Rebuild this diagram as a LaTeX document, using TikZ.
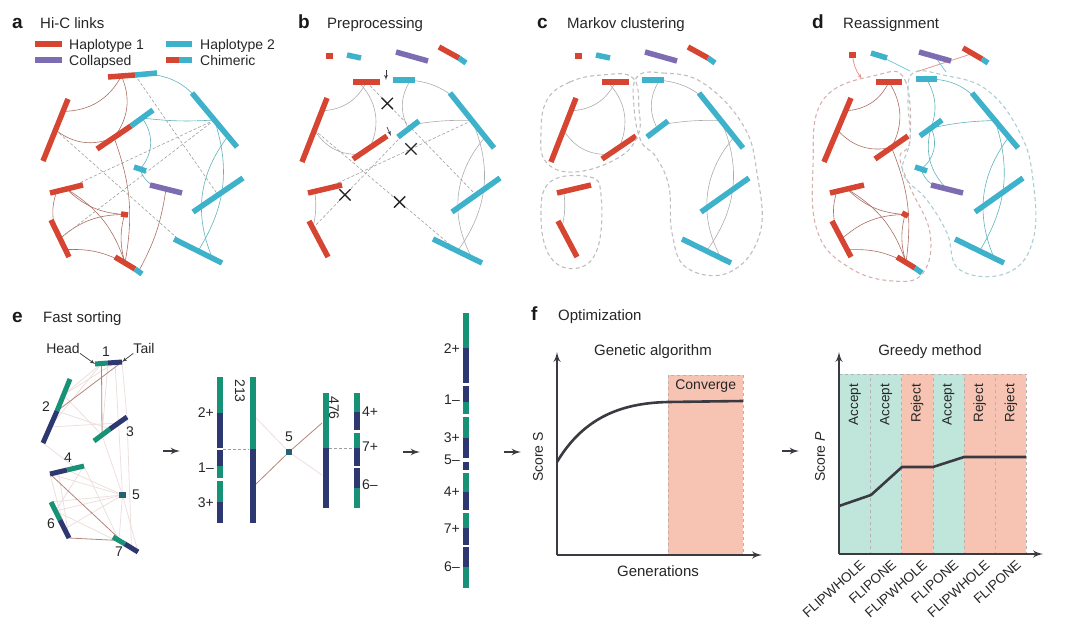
\documentclass[tikz,border=0pt]{standalone}
\usepackage{fontspec}
\setmainfont{Liberation Sans}
\usepackage{xcolor}
\definecolor{hapred}{RGB}{214, 68, 50}
\definecolor{hapblue}{RGB}{62, 178, 202}
\definecolor{collpurple}{RGB}{126, 108, 178}
\definecolor{headgreen}{RGB}{24, 146, 118}
\definecolor{tailnavy}{RGB}{46, 56, 112}
\definecolor{redlink}{RGB}{170, 110, 100}
\definecolor{bluelink}{RGB}{95, 178, 188}
\definecolor{clgray}{RGB}{190, 190, 192}
\definecolor{clred}{RGB}{214, 178, 174}
\definecolor{clblue}{RGB}{172, 206, 210}
\definecolor{acceptfill}{RGB}{192, 230, 220}
\definecolor{rejectfill}{RGB}{247, 196, 180}
\definecolor{axisgray}{RGB}{58, 58, 64}
\usepackage{tikz}
\usetikzlibrary{arrows, calc, positioning, backgrounds, shapes.misc}

% contig bar: style, name, from, to
\newcommand{\fragbar}[4]{\draw[#1] #3 coordinate (#2-s) -- coordinate[pos=.2] (#2-1) coordinate[pos=.5] (#2) coordinate[pos=.8] (#2-3) #4 coordinate (#2-e);}
% chimeric contig: name, from, junction, to
\newcommand{\chimbar}[4]{%
  \draw[redbar] #2 coordinate (#1-s) -- coordinate[pos=.5] (#1-r) #3 coordinate (#1-m);
  \draw[bluebar] (#1-m) -- coordinate[pos=.5] (#1-b) #4 coordinate (#1-e);}
% two-coloured contig for sorting: name, colour 1, colour 2, from, junction, to
\newcommand{\duobar}[6]{%
  \draw[ebar, draw=#2] #4 coordinate (#1-s) -- coordinate[pos=.5] (#1-g) #5 coordinate (#1-m);
  \draw[ebar, draw=#3] (#1-m) -- coordinate[pos=.5] (#1-n) #6 coordinate (#1-e);}
% contigs of panels b and c
\newcommand{\bcfrags}[1]{%
  \fragbar{redbar}{#1-t1}{(326,56)}{(333,56)}
  \fragbar{bluebar}{#1-t2}{(347,55)}{(361,58)}
  \fragbar{purplebar}{#1-t3}{(396,52)}{(428,61)}
  \chimbar{#1-t4}{(439,47)}{(459,58)}{(466,63)}
  \fragbar{redbar}{#1-rt}{(353,82)}{(380,82)}
  \fragbar{bluebar}{#1-bt}{(393,80)}{(415,80)}
  \fragbar{redbar}{#1-rl}{(327,98)}{(302,162)}
  \fragbar{redbar}{#1-rm}{(353,159)}{(387,136)}
  \fragbar{bluebar}{#1-bm}{(398,137)}{(419,121)}
  \fragbar{bluebar}{#1-br}{(450,93)}{(494,148)}
  \fragbar{bluebar}{#1-bmr}{(452,212)}{(500,178)}
  \fragbar{redbar}{#1-rlh}{(308,193)}{(342,185)}
  \fragbar{redbar}{#1-rll}{(309,221)}{(328,257)}
  \fragbar{bluebar}{#1-bb}{(433,239)}{(482,263)}
  \begin{scope}[on background layer]
    \draw[glink] (#1-rt) to[bend left=30] (#1-rl-1);
    \draw[glink] (#1-rt-1) to[bend left=35] (#1-rm);
    \draw[glink] (#1-rl) to[bend right=30] (#1-rm-1);
    \draw[glink] (#1-rlh-1) to[bend left=10] (#1-rll-1);
    \draw[glink] (#1-bt) to[bend left=30] (#1-br);
    \draw[glink] (#1-bt-3) to[bend right=30] (#1-bm);
    \draw[glink] (#1-bm-3) to[bend left=5] (#1-br);
    \draw[glink] (#1-br) to[bend left=30] (#1-bb);
    \draw[glink] (#1-br-3) to[bend right=35] (#1-bb-3);
  \end{scope}}

\begin{document}
\begin{tikzpicture}[x=1pt, y=-1pt,
    fragbase/.style={line width=5.5pt},
    redbar/.style={fragbase, draw=hapred},
    bluebar/.style={fragbase, draw=hapblue},
    purplebar/.style={fragbase, draw=collpurple},
    ebar/.style={line width=5pt},
    colbar/.style={line width=6pt},
    rlink/.style={draw=redlink, line width=.6pt},
    blink/.style={draw=bluelink, line width=.6pt},
    glink/.style={draw=gray!65, line width=.6pt},
    dlink/.style={draw=gray!75, dash pattern=on 3pt off 2pt, line width=.6pt},
    faint/.style={draw=redlink!22, line width=.8pt},
    strong/.style={draw=redlink!85, line width=.8pt},
    cut/.style={cross out, draw=black!85, solid, line width=1.3pt, minimum size=10pt, inner sep=0pt},
    zonebase/.style={dash pattern=on 4pt off 3pt, line width=1.1pt},
    grayzone/.style={zonebase, draw=clgray},
    redzone/.style={zonebase, draw=clred},
    bluezone/.style={zonebase, draw=clblue},
    reas/.style={line width=.8pt},
    plab/.style={font=\fontsize{19}{22}\selectfont\bfseries, anchor=base west, inner sep=0pt, text=black!90},
    ptitle/.style={font=\fontsize{15}{18}\selectfont, anchor=base west, inner sep=0pt, text=black!85},
    lab/.style={font=\fontsize{14}{16}\selectfont, inner sep=0pt, text=black!85},
    flowarrow/.style={draw=axisgray, line width=2.2pt, -latex'},
    axisline/.style={draw=axisgray, line width=2.4pt, -latex'},
    scoreline/.style={draw=axisgray, line width=2.6pt},
    zone/.style={draw=gray!60, dashed, minimum width=31.2pt, minimum height=180pt, inner sep=0pt, anchor=north west}]

\useasboundingbox (0,0) rectangle (1080,637);

% ---------------- a: Hi-C links
\node[plab] (a-lab) at (12,28) {a};
\node[ptitle] (a-title) at (40,28) {Hi-C links};
\fragbar{redbar}{lg1}{(35,44)}{(62,44)}
\node[lab, anchor=base west] (lg1-t) at (69,49) {Haplotype 1};
\fragbar{bluebar}{lg2}{(166,44)}{(192,44)}
\node[lab, anchor=base west] (lg2-t) at (200,49) {Haplotype 2};
\fragbar{purplebar}{lg3}{(35,60)}{(62,60)}
\node[lab, anchor=base west] (lg3-t) at (69,65) {Collapsed};
\chimbar{lg4}{(166,60)}{(179,60)}{(192,60)}
\node[lab, anchor=base west] (lg4-t) at (200,65) {Chimeric};

\chimbar{a1}{(108,77)}{(135,75)}{(157,73)}
\fragbar{redbar}{a2}{(68,99)}{(43,161)}
\chimbar{a3}{(97,149)}{(131,126)}{(153,110)}
\fragbar{bluebar}{a4}{(192,93)}{(237,147)}
\fragbar{bluebar}{a5}{(134,167)}{(146,171)}
\fragbar{purplebar}{a6}{(150,185)}{(182,193)}
\fragbar{bluebar}{a7}{(193,212)}{(243,178)}
\fragbar{redbar}{a8}{(50,193)}{(83,185)}
\fragbar{redbar}{a9}{(121,214)}{(128,215)}
\fragbar{redbar}{a10}{(51,220)}{(69,257)}
\chimbar{a11}{(115,257)}{(135,269)}{(142,274)}
\fragbar{bluebar}{a12}{(174,239)}{(222,263)}

\begin{scope}[on background layer]
  \draw[rlink] (a1-r) to[bend left=30] (a2-1);
  \draw[rlink] (a1-r) to[bend left=30] (a3-r);
  \draw[rlink] (a2) to[bend right=30] (a3-r);
  \draw[rlink] (a3-r) to[bend left=15] (a11-r);
  \draw[rlink] (a8) to[bend right=20] (a9);
  \draw[rlink] (a8-1) to[bend right=15] (a10-1);
  \draw[rlink] (a8) to[bend left=20] (a11-r);
  \draw[rlink] (a10) to[bend left=20] (a9);
  \draw[rlink] (a10-3) to[bend left=15] (a11-r);
  \draw[rlink] (a9) to[bend right=15] (a11-r);
  \draw[rlink] (a6) to[bend left=10] (a11-b);
  \draw[blink] (a1-b) to[bend left=25] (a4-1);
  \draw[blink] (a3-b) to[bend right=5] (a4);
  \draw[blink] (a3-b) to[bend left=40] (a5);
  \draw[blink] (a5) to[bend right=35] (a6);
  \draw[blink] (a4) to[bend left=25] (a12);
  \draw[blink] (a4-3) to[bend right=30] (a12-3);
  \draw[dlink] (a1-m) -- (a7);
  \draw[dlink] (a2) -- (a12-1);
  \draw[dlink] (a4) -- (a10);
  \draw[dlink] (a4) -- (a8);
\end{scope}

% ---------------- b: Preprocessing
\node[plab] (b-lab) at (298,28) {b};
\node[ptitle] (b-title) at (327,28) {Preprocessing};
\bcfrags{b}
\begin{scope}[on background layer]
  \draw[dlink] (b-rt) -- node[cut, pos=.19] (b-x1) {} (b-bmr);
  \draw[dlink] (b-rl) -- node[cut, pos=.595] (b-x2) {} (b-bb);
  \draw[dlink] (b-br) -- node[cut, pos=.415] (b-x3) {} (b-rlh);
  \draw[dlink] (b-rll-1) -- node[cut, pos=.336] (b-x4) {} (b-bm);
\end{scope}
\coordinate (b-k1) at (386,70);
\coordinate (b-k1e) at (386,80);
\coordinate (b-k2) at (387,127);
\coordinate (b-k2e) at (391,136);
\draw[axisgray, line width=.7pt, -latex'] (b-k1) -- (b-k1e);
\draw[axisgray, line width=.7pt, -latex'] (b-k2) -- (b-k2e);

% ---------------- c: Markov clustering
\node[plab] (c-lab) at (537,28) {c};
\node[ptitle] (c-title) at (567,28) {Markov clustering};
\begin{scope}[xshift=249pt]
  \bcfrags{c}
\end{scope}
\draw[grayzone] plot[smooth cycle, tension=.7] coordinates {(547,100) (570,82) (602,75) (633,78) (639,110) (638,135) (618,158) (575,172) (546,162) (541,133)};
\draw[grayzone] plot[smooth cycle, tension=.7] coordinates {(550,182) (590,177) (601,195) (598,247) (578,268) (551,258) (541,218)};
\draw[grayzone] plot[smooth cycle, tension=.7] coordinates {(637,77) (663,73) (703,83) (743,125) (757,173) (760,233) (730,272) (687,268) (672,233) (669,187) (656,157) (641,141) (634,107)};

% ---------------- d: Reassignment
\node[plab] (d-lab) at (812,28) {d};
\node[ptitle] (d-title) at (843,28) {Reassignment};
\fragbar{redbar}{d-t1}{(849,55)}{(856,55)}
\fragbar{bluebar}{d-t2}{(871,53)}{(887,58)}
\fragbar{purplebar}{d-t3}{(919,52)}{(951,61)}
\chimbar{d-t4}{(963,48)}{(982,59)}{(988,63)}
\fragbar{redbar}{d-rt}{(876,82)}{(902,82)}
\fragbar{bluebar}{d-bt}{(916,79)}{(937,79)}
\fragbar{redbar}{d-rl}{(851,98)}{(824,162)}
\fragbar{redbar}{d-rm}{(875,159)}{(908,136)}
\fragbar{bluebar}{d-bm}{(920,136)}{(942,120)}
\fragbar{bluebar}{d-br}{(972,93)}{(1018,148)}
\fragbar{bluebar}{d-bs}{(915,167)}{(927,171)}
\fragbar{purplebar}{d-pu}{(931,185)}{(963,193)}
\fragbar{bluebar}{d-bmr}{(975,212)}{(1023,178)}
\fragbar{redbar}{d-rlh}{(830,193)}{(864,185)}
\fragbar{redbar}{d-rs}{(902,213)}{(908,216)}
\fragbar{redbar}{d-rll}{(832,221)}{(851,257)}
\chimbar{d-ch}{(897,257)}{(915,268)}{(922,273)}
\fragbar{bluebar}{d-bb}{(955,239)}{(1004,263)}
\coordinate (d-in1) at (862,79);
\coordinate (d-in2) at (910,71);
\coordinate (d-in3) at (916,72);
\coordinate (d-in4) at (946,72);

\begin{scope}[on background layer]
  \draw[rlink] (d-rt) to[bend left=30] (d-rl-1);
  \draw[rlink] (d-rt) to[bend left=30] (d-rm);
  \draw[rlink] (d-rl) to[bend right=30] (d-rm);
  \draw[rlink] (d-rm) to[bend left=15] (d-ch-r);
  \draw[rlink] (d-rlh) to[bend right=20] (d-rs);
  \draw[rlink] (d-rlh-1) to[bend right=15] (d-rll-1);
  \draw[rlink] (d-rlh) to[bend left=20] (d-ch-r);
  \draw[rlink] (d-rll) to[bend left=20] (d-rs);
  \draw[rlink] (d-rll-3) to[bend left=15] (d-ch-r);
  \draw[rlink] (d-rs) to[bend right=15] (d-ch-r);
  \draw[blink] (d-bt) to[bend left=25] (d-br-1);
  \draw[blink] (d-bt) to[bend left=25] (d-bm);
  \draw[blink] (d-bm) to[bend left=5] (d-br);
  \draw[blink] (d-bm) to[bend left=40] (d-bs);
  \draw[blink] (d-bs) to[bend right=35] (d-pu);
  \draw[blink] (d-bm) to[bend right=30] (d-pu);
  \draw[blink] (d-br) to[bend left=25] (d-bb);
  \draw[blink] (d-br-3) to[bend right=30] (d-bb-3);
  \draw[reas, draw=hapred!55, -latex'] (d-t1) to[bend right=15] (d-in1);
  \draw[reas, draw=hapblue!70] (d-t2) -- (d-in2);
  \draw[reas, draw=hapred!55] (d-t4-r) -- (d-in3);
  \draw[reas, draw=hapblue!70] (d-t3) -- (d-in4);
\end{scope}
\draw[redzone] plot[smooth cycle, tension=.7] coordinates {(877,75) (905,80) (910,140) (900,157) (910,187) (930,233) (923,273) (893,281) (850,268) (818,233) (813,167) (823,100)};
\draw[bluezone] plot[smooth cycle, tension=.7] coordinates {(913,73) (943,75) (987,90) (1020,133) (1033,180) (1033,240) (1007,273) (960,270) (947,233) (927,200) (903,173) (910,140) (908,100)};

% ---------------- e: Fast sorting
\node[plab] (e-lab) at (12,322) {e};
\node[ptitle] (e-title) at (43,322) {Fast sorting};
\duobar{e1}{headgreen}{tailnavy}{(95,364)}{(108,363)}{(122,362)}
\duobar{e2}{headgreen}{tailnavy}{(70,379)}{(57,411)}{(43,443)}
\duobar{e3}{headgreen}{tailnavy}{(94,441)}{(110,429)}{(127,417)}
\duobar{e4}{tailnavy}{headgreen}{(50,474)}{(67,470)}{(84,466)}
\fragbar{ebar, draw=tailnavy!55!headgreen, line width=6pt}{e5}{(119,495)}{(126,495)}
\duobar{e6}{headgreen}{tailnavy}{(51,502)}{(60,520)}{(69,538)}
\duobar{e7}{headgreen}{tailnavy}{(113,537)}{(125,544)}{(138,552)}
\begin{scope}[on background layer]
  \foreach \p/\q in {e1-g/e2-g, e1-g/e2-n, e1-n/e2-g, e1-m/e3-g, e1-n/e3-n, e2-g/e3-g, e2-n/e3-n,
      e2-m/e3-m, e1-e/e3-e, e3-n/e5, e3-e/e7-n, e3-g/e5, e2-e/e4-n, e4-s/e5, e4-m/e5, e4-e/e6-g,
      e4-s/e6-n, e4-e/e7-g, e5/e6-g, e5/e6-n, e5/e7-g, e5/e7-e, e6-g/e7-n, e4-g/e6-e, e6-s/e5}
    \draw[faint] (\p) -- (\q);
  \draw[strong] (e1-e) -- (e2-m);
  \draw[strong] (e1-g) -- (e3-g);
  \draw[strong] (e4-s) -- (e7-m);
  \draw[strong] (e6-e) -- (e7-g);
\end{scope}
\node[lab] (n1) at (106,352) {1};
\node[lab] (n2) at (46,407) {2};
\node[lab] (n3) at (130,432) {3};
\node[lab] (n4) at (68,458) {4};
\node[lab] (n5) at (136,495) {5};
\node[lab] (n6) at (51,524) {6};
\node[lab] (n7) at (119,552) {7};
\node[lab] (head) at (63,348) {Head};
\node[lab] (tail) at (144,348) {Tail};
\draw[axisgray, line width=.7pt, -latex'] (head.south east) -- (e1-s);
\draw[axisgray, line width=.7pt, -latex'] (tail.south west) -- (e1-e);

% first sorting step: scaffolds 213 and 476 with 5 between
\foreach \c/\a/\b in {headgreen/377/413, tailnavy/413/448, tailnavy/450/466, headgreen/466/478,
    headgreen/481/502, tailnavy/502/523}
  \draw[colbar, draw=\c] (219.5,\a) -- (219.5,\b);
\foreach \c/\a/\b in {headgreen/377/449, tailnavy/449/523}
  \draw[colbar, draw=\c] (252.5,\a) -- (252.5,\b);
\foreach \c/\a/\b in {headgreen/393/448, tailnavy/448/508}
  \draw[colbar, draw=\c] (325.5,\a) -- (325.5,\b);
\foreach \c/\a/\b in {headgreen/393/412, tailnavy/412/430, headgreen/433/448, tailnavy/448/466,
    tailnavy/468/488, headgreen/488/508}
  \draw[colbar, draw=\c] (357,\a) -- (357,\b);
\foreach \t/\y in {2+/413, 1–/468, 3+/503}
  \node[lab, anchor=east] at (214,\y) {\t};
\foreach \t/\y in {4+/412, 7+/447, 6–/485}
  \node[lab, anchor=west] at (362,\y) {\t};
\node[lab, rotate=-90] (s213) at (240,391) {213};
\node[lab, rotate=-90] (s476) at (334,408) {476};
\node[fill=tailnavy!55!headgreen, minimum size=6pt, inner sep=0pt] (m5) at (289,452) {};
\node[lab] (m5-t) at (289,437) {5};
\coordinate (eA-j) at (223,449);
\coordinate (eB-j) at (249,449);
\coordinate (eC-j) at (329,448);
\coordinate (eD-j) at (354,448);
\coordinate (eB-up) at (256,418);
\coordinate (eB-lo) at (256,484);
\coordinate (eC-up) at (322,423);
\coordinate (eC-lo) at (322,475);
\draw[dlink] (eA-j) -- (eB-j);
\draw[dlink] (eC-j) -- (eD-j);
\begin{scope}[on background layer]
  \draw[faint] (eB-up) -- (m5) -- (eC-lo);
  \draw[strong] (eB-lo) -- (m5) -- (eC-up);
\end{scope}

% final scaffold
\foreach \c/\a/\b in {headgreen/313/348, tailnavy/348/383, tailnavy/386/402, headgreen/402/414,
    headgreen/417/438, tailnavy/438/458, tailnavy/462/470, headgreen/473/492, tailnavy/492/510,
    headgreen/513/528, tailnavy/528/545, tailnavy/547/567, headgreen/567/588}
  \draw[colbar, draw=\c] (465.5,\a) -- (465.5,\b);
\foreach \t/\y in {2+/349, 1–/400, 3+/438, 5–/460, 4+/492, 7+/529, 6–/567}
  \node[lab, anchor=east] at (460,\y) {\t};

\coordinate (ar1-s) at (163,451);
\coordinate (ar1-e) at (180,451);
\coordinate (ar2-s) at (403,452);
\coordinate (ar2-e) at (420,452);
\coordinate (ar3-s) at (504,452);
\coordinate (ar3-e) at (521,452);
\coordinate (ar4-s) at (782,451);
\coordinate (ar4-e) at (799,451);
\draw[flowarrow] (ar1-s) -- (ar1-e);
\draw[flowarrow] (ar2-s) -- (ar2-e);
\draw[flowarrow] (ar3-s) -- (ar3-e);
\draw[flowarrow] (ar4-s) -- (ar4-e);

% ---------------- f: Optimization
\node[plab] (f-lab) at (531,320) {f};
\node[ptitle] (f-title) at (558,320) {Optimization};

% genetic algorithm
\node[lab, font=\fontsize{15}{18}\selectfont] (ga-title) at (653,352) {Genetic algorithm};
\node[draw=gray!60, dashed, fill=rejectfill, minimum width=75pt, minimum height=180pt,
  inner sep=0pt, anchor=north west] (conv) at (668,375) {};
\node[lab, anchor=north] (conv-t) at ([yshift=-5pt]conv.north) {Converge};
\coordinate (ga-o) at (557,555);
\coordinate (ga-y) at (557,352);
\coordinate (ga-x) at (762,555);
\draw[axisline] (ga-o) -- (ga-y);
\draw[axisline] (ga-o) -- (ga-x);
\coordinate (ga-p0) at (557,462);
\coordinate (ga-p1) at (668,402);
\coordinate (ga-p2) at (743,401);
\draw[scoreline] (ga-p0) .. controls (585,415) and (625,403) .. (ga-p1) -- (ga-p2);
\node[lab, rotate=90] (ga-ylab) at (538,457) {Score S};
\node[lab, font=\fontsize{15}{18}\selectfont] (ga-xlab) at (658,571) {Generations};

% greedy method
\node[lab, font=\fontsize{15}{18}\selectfont] (gr-title) at (930,352) {Greedy method};
\foreach \i/\f/\t/\m in {1/acceptfill/Accept/FLIPWHOLE, 2/acceptfill/Accept/FLIPONE,
    3/rejectfill/Reject/FLIPWHOLE, 4/acceptfill/Accept/FLIPONE,
    5/rejectfill/Reject/FLIPWHOLE, 6/rejectfill/Reject/FLIPONE} {
  \node[zone, fill=\f] (col\i) at ({839+31.2*(\i-1)},374) {};
  \node[lab, font=\fontsize{13.5}{16}\selectfont, rotate=90, anchor=east] (cl\i) at ($(col\i.north)+(0,10)$) {\t};
  \node[lab, font=\fontsize{13.5}{16}\selectfont, rotate=42, anchor=east] (fl\i) at ($(col\i.south)+(8,8)$) {\m};
}
\coordinate (gr-o) at (839,554);
\coordinate (gr-y) at (839,352);
\coordinate (gr-x) at (1043,554);
\draw[axisline] (gr-o) -- (gr-y);
\draw[axisline] (gr-o) -- (gr-x);
\coordinate (gr-p0) at (839,506);
\coordinate (gr-p1) at (871,495);
\coordinate (gr-p2) at (902,467);
\coordinate (gr-p3) at (933,467);
\coordinate (gr-p4) at (964,457);
\coordinate (gr-p5) at (1026,457);
\draw[scoreline] (gr-p0) -- (gr-p1) -- (gr-p2) -- (gr-p3) -- (gr-p4) -- (gr-p5);
\node[lab, rotate=90] (gr-ylab) at (820,457) {Score \textit{P}};

\end{tikzpicture}
\end{document}
